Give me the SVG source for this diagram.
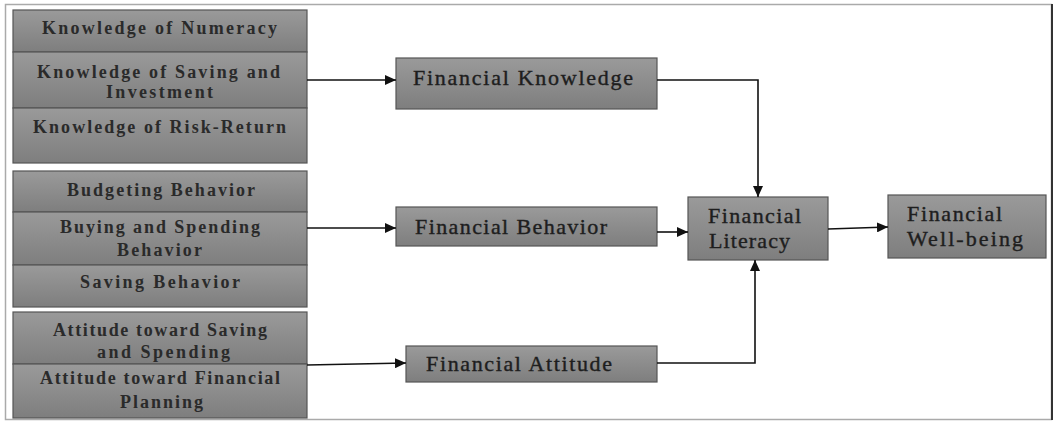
<svg xmlns="http://www.w3.org/2000/svg" width="1056" height="423" viewBox="0 0 1056 423">
  <style>
    .box { fill: url(#boxFill); stroke: #555; stroke-width: 1.2; }
    .sub { font-family: "Liberation Serif", "Times New Roman", serif; font-size: 18px; font-weight: bold; fill: #2a2a2a; }
    .main { font-family: "Liberation Serif", "Times New Roman", serif; font-size: 22px; fill: #1e1e1e; stroke: #1e1e1e; stroke-width: 0.4; }
    .link { fill: none; stroke: #111; stroke-width: 1.6; marker-end: url(#arrow); }
  </style>
  <defs>
    <linearGradient id="boxFill" x1="0" y1="0" x2="0" y2="1">
      <stop offset="0" stop-color="#9a9a9a"/>
      <stop offset="1" stop-color="#7e7e7e"/>
    </linearGradient>
    <marker id="arrow" markerUnits="userSpaceOnUse" markerWidth="12" markerHeight="10" refX="11" refY="5" orient="auto">
      <path d="M0,0 L11,5 L0,10 Z" fill="#111"/>
    </marker>
  </defs>

  <!-- page frame -->
  <rect x="5.5" y="4.5" width="1046" height="415" fill="#fff" stroke="#aaa" stroke-width="1.5"/>
  <line x1="1052" y1="4" x2="1052" y2="420" stroke="#333" stroke-width="2"/>

  <!-- knowledge components -->
  <g id="knowledge-numeracy">
    <rect class="box" x="13" y="10" width="294" height="42"/>
    <text class="sub" x="42" y="34" textLength="235" lengthAdjust="spacing">Knowledge of Numeracy</text>
  </g>
  <g id="knowledge-saving">
    <rect class="box" x="13" y="52" width="294" height="56"/>
    <text class="sub" x="37" y="78" textLength="243" lengthAdjust="spacing">Knowledge of Saving and</text>
    <text class="sub" x="106" y="98" textLength="107" lengthAdjust="spacing">Investment</text>
  </g>
  <g id="knowledge-risk">
    <rect class="box" x="13" y="108" width="294" height="55"/>
    <text class="sub" x="33" y="133" textLength="253" lengthAdjust="spacing">Knowledge of Risk-Return</text>
  </g>

  <!-- behavior components -->
  <g id="budgeting-behavior">
    <rect class="box" x="13" y="171" width="294" height="41"/>
    <text class="sub" x="67" y="196" textLength="188" lengthAdjust="spacing">Budgeting Behavior</text>
  </g>
  <g id="buying-spending">
    <rect class="box" x="13" y="212" width="294" height="53"/>
    <text class="sub" x="60" y="233" textLength="200" lengthAdjust="spacing">Buying and Spending</text>
    <text class="sub" x="117" y="256" textLength="85" lengthAdjust="spacing">Behavior</text>
  </g>
  <g id="saving-behavior">
    <rect class="box" x="13" y="265" width="294" height="42"/>
    <text class="sub" x="80" y="288" textLength="160" lengthAdjust="spacing">Saving Behavior</text>
  </g>

  <!-- attitude components -->
  <g id="attitude-saving">
    <rect class="box" x="13" y="312" width="294" height="52"/>
    <text class="sub" x="53" y="336" textLength="214" lengthAdjust="spacing">Attitude toward Saving</text>
    <text class="sub" x="97" y="358" textLength="133" lengthAdjust="spacing">and Spending</text>
  </g>
  <g id="attitude-planning">
    <rect class="box" x="13" y="364" width="294" height="54"/>
    <text class="sub" x="40" y="384" textLength="240" lengthAdjust="spacing">Attitude toward Financial</text>
    <text class="sub" x="120" y="408" textLength="83" lengthAdjust="spacing">Planning</text>
  </g>

  <!-- dimensions -->
  <g id="financial-knowledge">
    <rect class="box" x="396" y="58" width="261" height="51"/>
    <text class="main" x="413" y="85" textLength="220" lengthAdjust="spacing">Financial Knowledge</text>
  </g>
  <g id="financial-behavior">
    <rect class="box" x="396" y="207" width="261" height="39"/>
    <text class="main" x="415" y="234" textLength="192" lengthAdjust="spacing">Financial Behavior</text>
  </g>
  <g id="financial-attitude">
    <rect class="box" x="406" y="346" width="251" height="36"/>
    <text class="main" x="426" y="371" textLength="186" lengthAdjust="spacing">Financial Attitude</text>
  </g>

  <!-- outcomes -->
  <g id="financial-literacy">
    <rect class="box" x="688" y="197" width="140" height="63"/>
    <text class="main" x="708" y="223" textLength="93" lengthAdjust="spacing">Financial</text>
    <text class="main" x="709" y="248" textLength="81" lengthAdjust="spacing">Literacy</text>
  </g>
  <g id="financial-wellbeing">
    <rect class="box" x="888" y="195" width="158" height="63"/>
    <text class="main" x="907" y="221" textLength="95" lengthAdjust="spacing">Financial</text>
    <text class="main" x="907" y="246" textLength="116" lengthAdjust="spacing">Well-being</text>
  </g>

  <!-- connectors -->
  <g id="connectors">
    <path class="link" d="M307,80 L396,80"/>
    <path class="link" d="M307,228 L396,228"/>
    <path class="link" d="M307,365 L406,363"/>
    <path class="link" d="M657,80 L758,80 L758,197"/>
    <path class="link" d="M657,232 L688,232"/>
    <path class="link" d="M657,363 L755,363 L755,260"/>
    <path class="link" d="M828,229 L888,227"/>
  </g>
</svg>
